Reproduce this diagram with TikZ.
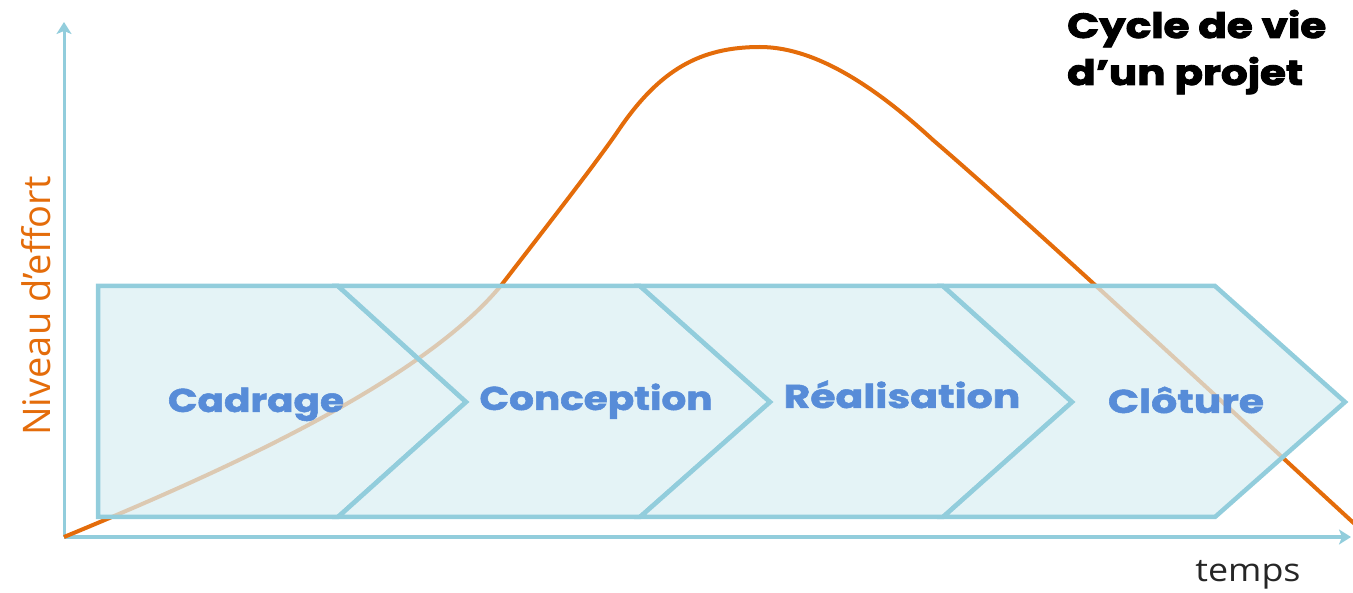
\documentclass[tikz,border=0pt]{standalone}
\usepackage{fontspec}
\setmainfont{Open Sans}
\newfontfamily\popf{Poppins}[BoldFeatures={FakeBold=1.5}]
\newfontfamily\popt{Poppins}[BoldFeatures={FakeBold=2.5}]
\usetikzlibrary{arrows.meta}
\definecolor{aqua}{HTML}{92CDDC}
\definecolor{aquafill}{HTML}{DAEEF3}
\definecolor{curveorange}{HTML}{E46C0A}
\definecolor{phaseblue}{HTML}{578CD8}
\begin{document}
\begin{tikzpicture}[x=1pt,y=-1pt,
  axisline/.style={draw=aqua, line width=3pt, -{Stealth[length=12pt,width=15pt,inset=3pt]}},
  chev/.style={draw=aqua, line width=4.5pt, fill=aquafill, fill opacity=0.72, line join=miter},
  phase/.style={font=\popf\bfseries\fontsize{33}{38}\selectfont, text=phaseblue, anchor=base, inner sep=0pt, xscale=1.18},
  ttl/.style={font=\popt\bfseries\fontsize{35}{40}\selectfont, text=black, anchor=base west, inner sep=0pt, xscale=1.2},
  effortcurve/.style={draw=curveorange, line width=4pt}]
\useasboundingbox (0,0) rectangle (1353,593);
% axes
\coordinate (origin) at (64,537);
\coordinate (ytip) at (64,22);
\coordinate (xtip) at (1351,537);
\draw[axisline] (origin) -- (ytip);
\draw[axisline] (origin) -- (xtip);
% effort curve
\coordinate (c1) at (503,283);
\coordinate (c2) at (620,128);
\coordinate (peak) at (760,47);
\coordinate (c3) at (933,140);
\coordinate (cend) at (1358,527);
\draw[effortcurve] (origin) .. controls (214,475) and (423,383) .. (c1)
  .. controls (543,231) and (600,158) .. (c2)
  .. controls (660,70) and (700,47) .. (peak)
  .. controls (820,47) and (883,94) .. (c3)
  .. controls (1040,232) and (1250,428) .. (cend);
% chevrons
\draw[chev] (98,286) -- (338,286) -- (466,402) -- (338,517) -- (98,517) -- cycle;
\draw[chev] (338,286) -- (640,286) -- (770,402) -- (640,517) -- (338,517) -- (466,402) -- cycle;
\draw[chev] (640,286) -- (943,286) -- (1072,402) -- (943,517) -- (640,517) -- (770,402) -- cycle;
\draw[chev] (943,286) -- (1215,286) -- (1345,402) -- (1215,517) -- (943,517) -- (1072,402) -- cycle;
% labels
\node[phase] (cadrage) at (256,412) {Cadrage};
\node[phase] (conception) at (596,410) {Conception};
\node[phase, xscale=1.05] (realisation) at (902,408) {Réalisation};
\node[phase, xscale=1.05] (cloture) at (1186,413) {Clôture};
\node[ttl] (title1) at (1067,38) {Cycle de vie};
\node[ttl] (title2) at (1067,85) {d’un projet};
\node[font=\fontsize{32}{36}\selectfont, text=black!85, anchor=base, inner sep=0pt, xscale=1.12] (temps) at (1248,581) {temps};
\node[font=\fontsize{38}{44}\selectfont, text=curveorange, anchor=base, rotate=90, inner sep=0pt] (niveau) at (50,306) {Niveau d’effort};
\end{tikzpicture}
\end{document}
